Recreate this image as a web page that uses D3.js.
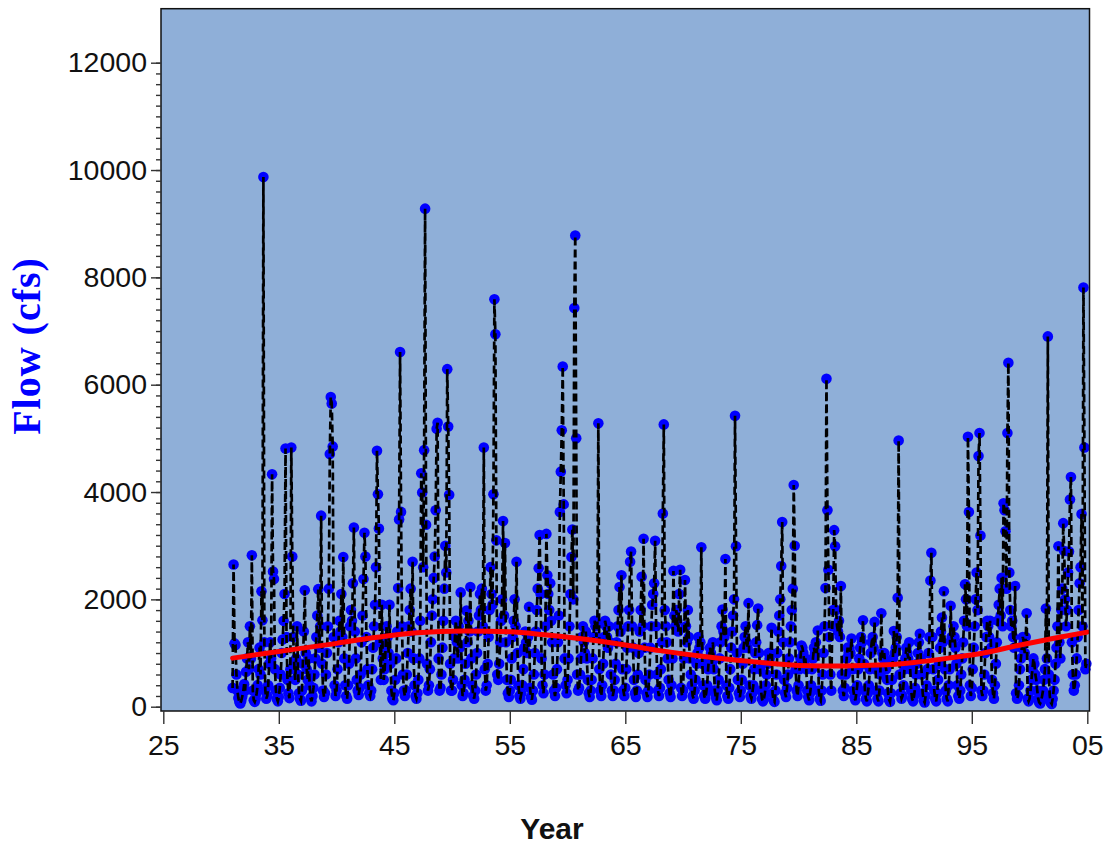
<!DOCTYPE html>
<html>
<head>
<meta charset="utf-8">
<script src="https://cdn.jsdelivr.net/npm/d3@7"></script>
<style>
  html, body { margin: 0; padding: 0; background: #ffffff; }
  svg { display: block; }
</style>
</head>
<body>
<svg id="chart" width="1108" height="846"></svg>
<script>
// Monthly mean flow (cfs), January through December of each year
const startYear = 1931;

const flow1930s = [
  350, 2650, 1180, 1150, 600, 300, 160, 90, 60, 110, 190, 270,
  420, 300, 650, 900, 1200, 700, 1500, 900, 2820, 300, 120, 90,
  150, 250, 400, 700, 1100, 600, 2150, 1610, 9870, 1200, 300, 150,
  200, 400, 800, 1200, 900, 4330, 2520, 2380, 700, 300, 150, 100,
  180, 350, 600, 1000, 1250, 1600, 2100, 4810, 1300, 500, 250, 160,
  700, 4830, 2800, 1300, 800, 500, 900, 1500, 600, 250, 150, 110,
  300, 800, 1400, 2170, 1000, 700, 500, 900, 400, 160, 100, 200,
  350, 600, 900, 1300, 1700, 2190, 1100, 1500, 3560, 800, 300, 180,
  250, 600, 1000, 1500, 2200, 4710, 5770, 5650, 4850, 1300, 400, 200
];
const flow1940s = [
  300, 700, 1200, 1600, 1400, 2100, 1300, 2790, 900, 400, 200, 150,
  400, 800, 1500, 1800, 1600, 2300, 3340, 1400, 900, 500, 300, 220,
  350, 600, 1200, 1700, 2380, 3240, 2800, 1300, 700, 400, 250, 200,
  300, 700, 1100, 1500, 1900, 2600, 4770, 3960, 3320, 1200, 500, 1900,
  900, 500, 700, 1100, 1500, 1300, 1000, 1900, 800, 300, 150, 120,
  250, 500, 900, 1400, 2210, 3490, 6610, 3630, 1500, 600, 300, 200,
  300, 600, 1000, 1500, 1800, 2200, 1400, 2700, 900, 400, 200, 150,
  250, 500, 900, 1600, 4350, 3990, 2600, 4780, 9280, 3390, 800, 300,
  400, 700, 1200, 1700, 2000, 2400, 2800, 3660, 5180, 5290, 900, 300,
  350, 600, 1100, 1600, 2200, 3000, 2500, 6290, 5220, 3950, 800, 300
];
const flow1950s = [
  300, 500, 900, 1300, 1600, 1200, 900, 1500, 1100, 2130, 400, 200,
  250, 500, 800, 1790, 1200, 1600, 1400, 2230, 900, 400, 200, 150,
  300, 600, 1000, 1400, 1700, 2100, 1800, 2200, 1500, 4830, 700, 300,
  400, 800, 1300, 1800, 2600, 2100, 1900, 3960, 7590, 6940, 3100, 600,
  500, 800, 1200, 1600, 2000, 3460, 1700, 3050, 1200, 500, 250, 180,
  300, 500, 900, 1300, 1600, 2000, 1500, 2700, 1000, 400, 200, 150,
  250, 400, 700, 1100, 1400, 1200, 1000, 1300, 1860, 350, 180, 130,
  300, 600, 1000, 1400, 1800, 2200, 2580, 3200, 2100, 900, 400, 250,
  600, 1500, 3220, 2450, 2100, 1800, 2300, 1600, 1200, 600, 300, 200,
  350, 700, 1200, 1700, 3630, 4380, 5150, 6340, 3770, 900, 400, 250
];
const flow1960s = [
  500, 900, 1500, 2100, 2790, 3300, 2000, 7430, 8780, 5000, 600, 300,
  350, 600, 900, 1300, 1500, 1200, 1000, 1400, 900, 500, 250, 180,
  300, 500, 900, 1300, 1600, 1500, 1300, 1550, 5280, 700, 300, 200,
  400, 800, 1300, 1600, 1500, 1300, 1100, 1500, 1200, 600, 300, 200,
  300, 500, 800, 1200, 1500, 1800, 2230, 1400, 2450, 700, 300, 200,
  350, 700, 1100, 1500, 1800, 2700, 2890, 1500, 1100, 500, 250, 180,
  300, 600, 1000, 1400, 1800, 2420, 1500, 3130, 1100, 500, 250, 180,
  300, 600, 1100, 1500, 1900, 2100, 2300, 3090, 1500, 600, 300, 200,
  350, 700, 1200, 3600, 5260, 1800, 1500, 1200, 900, 500, 250, 180,
  400, 900, 2530, 1700, 1500, 1800, 1600, 1400, 2100, 2550, 350, 200
];
const flow1970s = [
  300, 900, 2360, 1500, 1200, 1800, 1300, 900, 600, 400, 200, 150,
  300, 500, 800, 1000, 1300, 1100, 1200, 2970, 800, 400, 200, 150,
  250, 400, 700, 900, 1100, 1000, 800, 1200, 700, 300, 180, 120,
  300, 500, 900, 1200, 1500, 1810, 1400, 1300, 2750, 400, 200, 150,
  350, 700, 1100, 1400, 1700, 2000, 5420, 2990, 1000, 500, 250, 180,
  300, 500, 800, 1100, 1300, 1500, 1200, 1100, 1930, 400, 200, 150,
  250, 400, 700, 1000, 1200, 1520, 1830, 1000, 700, 300, 150, 100,
  150, 250, 400, 600, 800, 1000, 900, 1000, 1470, 250, 120, 90,
  300, 600, 1000, 1400, 1700, 2000, 2620, 3440, 1200, 500, 250, 180,
  350, 600, 900, 1200, 1500, 1800, 2200, 4130, 3000, 700, 300, 200
];
const flow1980s = [
  400, 700, 900, 1140, 1100, 1000, 800, 900, 700, 300, 180, 120,
  250, 400, 700, 900, 1100, 1000, 1200, 1000, 1420, 300, 150, 110,
  300, 600, 1000, 1500, 2210, 6110, 3660, 2550, 1300, 600, 300, 1500,
  1800, 3290, 2990, 1800, 1500, 1400, 1600, 1300, 2250, 600, 300, 200,
  350, 600, 900, 1100, 1000, 1100, 1000, 1270, 700, 300, 180, 120,
  250, 400, 700, 900, 1100, 1300, 1200, 1610, 800, 300, 150, 100,
  250, 400, 700, 1000, 1200, 1300, 1100, 1580, 700, 300, 150, 100,
  300, 600, 1740, 1000, 900, 1000, 800, 700, 500, 250, 130, 90,
  250, 500, 900, 1410, 1000, 1100, 1300, 2030, 4960, 600, 250, 150,
  200, 400, 700, 900, 1100, 1000, 900, 1200, 700, 300, 150, 100
];
const flow1990s = [
  200, 350, 600, 800, 1000, 1200, 1360, 900, 600, 250, 120, 80,
  200, 400, 700, 1000, 1300, 2350, 2870, 1300, 700, 300, 150, 100,
  250, 500, 800, 1100, 1400, 1660, 1200, 2150, 700, 300, 150, 100,
  400, 700, 1880, 1300, 1200, 1500, 1300, 1100, 800, 400, 200, 150,
  300, 600, 900, 1200, 1600, 2280, 2000, 1500, 5030, 3630, 400, 200,
  350, 700, 1100, 1500, 2000, 2500, 1800, 4670, 5100, 3190, 300, 200,
  300, 600, 1000, 1300, 1600, 1500, 1300, 1600, 1100, 500, 250, 150,
  400, 800, 1200, 1600, 1900, 2200, 1700, 2400, 1500, 3790, 3660, 3270,
  2200, 5100, 6410, 2500, 1800, 1500, 1600, 1300, 1100, 2250, 250, 150,
  200, 400, 700, 900, 1100, 1300, 1200, 1000, 1300, 1740, 150, 100
];
const flow2000s = [
  150, 300, 500, 700, 900, 800, 600, 500, 300, 150, 80, 60,
  100, 200, 300, 500, 700, 1830, 900, 6900, 600, 200, 80, 50,
  150, 300, 500, 800, 1100, 1500, 2990, 1200, 900, 1800, 2200, 3420,
  2900, 2000, 1500, 1800, 2500, 2890, 3860, 4280, 1200, 600, 300, 400,
  600, 900, 1300, 1800, 2300, 2600, 3590, 1500, 7810, 4830, 700, 800
];

// Smoothed long-term trend of the flow
const trendYears = [1931, 1935, 1940, 1943, 1947, 1951, 1955, 1958, 1961, 1965, 1968, 1972, 1976, 1980, 1984, 1987, 1990, 1993, 1996, 1999, 2002, 2005];
const trendFlow  = [905, 1030, 1180, 1280, 1380, 1410, 1395, 1340, 1270, 1150, 1045, 930, 840, 770, 760, 775, 825, 905, 1000, 1140, 1270, 1390];

// Axis ticks
const yearTicks = [1925, 1935, 1945, 1955, 1965, 1975, 1985, 1995, 2005];
const yearTickLabels = ["25", "35", "45", "55", "65", "75", "85", "95", "05"];
const flowTicks = [0, 2000, 4000, 6000, 8000, 10000, 12000];
const flowMinorStep = 200;

const flowSeries = [].concat(flow1930s, flow1940s, flow1950s, flow1960s, flow1970s, flow1980s, flow1990s, flow2000s)
  .map((v, i) => ({ t: startYear + i / 12, v: v }));

const svg = d3.select("#chart");

const frame = { left: 161, top: 8.7, right: 1089.5, bottom: 711 };

const x = d3.scaleLinear().domain([1925, 2005]).range([163.3, 1087.3]);
const y = d3.scaleLinear().domain([0, 12000]).range([706.7, 62.7]);

// plot background
svg.append("rect")
  .attr("x", frame.left).attr("y", frame.top)
  .attr("width", frame.right - frame.left).attr("height", frame.bottom - frame.top)
  .attr("fill", "#8fafd8");

const plot = svg.append("g");

// monthly points
plot.append("g").selectAll("circle")
  .data(flowSeries)
  .join("circle")
  .attr("cx", d => x(d.t))
  .attr("cy", d => y(d.v))
  .attr("r", 5.3)
  .attr("fill", "#0000ff");

// dashed connecting line
plot.append("path")
  .datum(flowSeries)
  .attr("fill", "none")
  .attr("stroke", "#000000")
  .attr("stroke-width", 2.7)
  .attr("stroke-dasharray", "8,4")
  .attr("d", d3.line().x(d => x(d.t)).y(d => y(d.v)));

// trend curve
plot.append("path")
  .datum(trendYears.map((t, i) => ({ t: t, v: trendFlow[i] })))
  .attr("fill", "none")
  .attr("stroke", "#ff0000")
  .attr("stroke-width", 5)
  .attr("stroke-linecap", "round")
  .attr("d", d3.line().curve(d3.curveMonotoneX).x(d => x(d.t)).y(d => y(d.v)));

// frame border
svg.append("rect")
  .attr("x", frame.left).attr("y", frame.top)
  .attr("width", frame.right - frame.left).attr("height", frame.bottom - frame.top)
  .attr("fill", "none")
  .attr("stroke", "#111")
  .attr("stroke-width", 1.5);

// y axis: minor then major ticks
const yMinor = svg.append("g")
  .attr("transform", `translate(${frame.left},0)`)
  .call(d3.axisLeft(y).tickValues(d3.range(0, 12001, flowMinorStep)).tickSize(5).tickFormat(""));
yMinor.select(".domain").remove();
yMinor.selectAll("line").attr("stroke", "#333").attr("stroke-width", 1.4);

const yAxis = svg.append("g")
  .attr("transform", `translate(${frame.left},0)`)
  .call(d3.axisLeft(y).tickValues(flowTicks).tickSize(10).tickPadding(4).tickFormat(d3.format("d")));
yAxis.select(".domain").remove();
yAxis.selectAll("line").attr("stroke", "#333").attr("stroke-width", 1.4);
yAxis.selectAll("text")
  .attr("fill", "#111")
  .style("font-family", "'Liberation Sans', Arial, sans-serif")
  .style("font-size", "28.5px");

// x axis
const xAxis = svg.append("g")
  .attr("transform", `translate(0,${frame.bottom})`)
  .call(d3.axisBottom(x).tickValues(yearTicks).tickSize(13).tickPadding(11)
    .tickFormat((d, i) => yearTickLabels[i]));
xAxis.select(".domain").remove();
xAxis.selectAll("line").attr("stroke", "#333").attr("stroke-width", 1.4);
xAxis.selectAll("text")
  .attr("fill", "#111")
  .style("font-family", "'Liberation Sans', Arial, sans-serif")
  .style("font-size", "28.5px");

// axis titles
svg.append("text")
  .attr("x", 552).attr("y", 839)
  .attr("text-anchor", "middle")
  .style("font-family", "'Liberation Sans', Arial, sans-serif")
  .style("font-size", "30px")
  .style("font-weight", "bold")
  .attr("fill", "#111")
  .text("Year");

svg.append("text")
  .attr("transform", "translate(40,346) rotate(-90)")
  .attr("text-anchor", "middle")
  .style("font-family", "'Liberation Serif', 'Times New Roman', serif")
  .style("font-size", "40px")
  .style("font-weight", "bold")
  .style("letter-spacing", "1px")
  .attr("fill", "#0000ff")
  .text("Flow (cfs)");
</script>
</body>
</html>
